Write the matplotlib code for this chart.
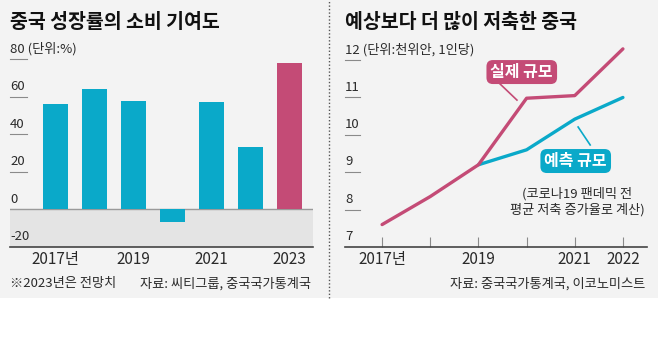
import matplotlib.pyplot as plt
from matplotlib.patches import Rectangle
from matplotlib.lines import Line2D

plt.rcParams["font.family"] = ["Noto Sans CJK KR", "DejaVu Sans"]

# ---------------- data ----------------
bar_years = [2017, 2018, 2019, 2020, 2021, 2022, 2023]
bar_values = [56, 64, 58, -6.5, 57.5, 33.5, 78]
bar_labels = {2017: "2017년", 2019: "2019", 2021: "2021", 2023: "2023"}

line_years = [2017, 2018, 2019, 2020, 2021, 2022]
actual = [7.6, 8.35, 9.2, 10.98, 11.05, 12.3]
pred_years = [2019, 2020, 2021, 2022]
predicted = [9.2, 9.6, 10.42, 11.0]
line_labels = {2017: "2017년", 2019: "2019", 2021: "2021", 2022: "2022"}

TEAL = "#0aa9c9"
PINK = "#c44b76"
BG = "#f3f3f3"
TXT = "#2a2a2a"

W, H = 658, 339
fig = plt.figure(figsize=(W / 100, H / 100), dpi=100)
fig.patch.set_facecolor("white")


def fx(px):
    return px / W


def fy(py):
    return 1 - py / H


# background of the graphic
fig.patches.append(Rectangle((0, fy(298)), 1, 1 - fy(298), transform=fig.transFigure,
                             facecolor=BG, edgecolor="none", zorder=-10))
# dotted divider
fig.add_artist(Line2D([fx(329), fx(329)], [fy(298), fy(0)], transform=fig.transFigure,
                      color="#555555", lw=1.0, linestyle=(0, (1, 1.5))))

# ---------------- left: bars ----------------
ax1 = fig.add_axes([fx(10), fy(247), fx(313) - fx(10), fy(50) - fy(247)])
ax1.set_facecolor("none")
ax1.set_ylim(-20, 85)
ax1.set_xlim(-1.17, 6.6)

ax1.axhspan(-20, 0, color="#e4e4e4", zorder=0)
ax1.axhline(0, color="#9a9a9a", lw=1.0, zorder=1)

colors = [TEAL] * (len(bar_values) - 1) + [PINK]
ax1.bar(range(len(bar_years)), bar_values, width=0.64, color=colors, zorder=2)

for s in ["top", "right", "left"]:
    ax1.spines[s].set_visible(False)
ax1.spines["bottom"].set_color("#444444")
ax1.spines["bottom"].set_linewidth(1.2)
ax1.set_yticks([])
ax1.set_xticks([bar_years.index(y) for y in bar_labels])
ax1.set_xticklabels(list(bar_labels.values()), fontsize=11, color=TXT)
ax1.tick_params(axis="x", length=0, pad=3)

ytrans1 = ax1.get_yaxis_transform()
for v in [80, 60, 40, 20]:
    ax1.plot([0, 0.055], [v, v], transform=ytrans1, color="#8a8a8a", lw=0.8, clip_on=False)
for v in [80, 60, 40, 20, 0, -20]:
    lab = "80 (단위:%)" if v == 80 else str(v)
    ax1.text(0, v + 2, lab, transform=ytrans1, ha="left", va="bottom",
             fontsize=9.5, color=TXT)

# ---------------- right: lines ----------------
ax2 = fig.add_axes([fx(345), fy(247), fx(647) - fx(345), fy(50) - fy(247)])
ax2.set_facecolor("none")
ax2.set_xlim(2016.23, 2022.5)
ax2.set_ylim(7, 12.27)

ax2.plot(pred_years, predicted, color=TEAL, lw=2.4, solid_capstyle="round", clip_on=False, zorder=3)
ax2.plot(line_years, actual, color=PINK, lw=2.4, solid_capstyle="round", clip_on=False, zorder=4)

for s in ["top", "right", "left"]:
    ax2.spines[s].set_visible(False)
ax2.spines["bottom"].set_color("#444444")
ax2.spines["bottom"].set_linewidth(1.2)
ax2.set_yticks([])
ax2.set_xticks(line_years)
ax2.set_xticklabels([line_labels.get(y, "") for y in line_years], fontsize=11, color=TXT)
ax2.tick_params(axis="x", direction="in", length=7, width=0.8, color="#8a8a8a", pad=3)

ytrans2 = ax2.get_yaxis_transform()
for v in [12, 11, 10, 9, 8]:
    ax2.plot([0, 0.05], [v, v], transform=ytrans2, color="#8a8a8a", lw=0.8, clip_on=False)
for v in [12, 11, 10, 9, 8, 7]:
    lab = "12 (단위:천위안, 1인당)" if v == 12 else str(v)
    ax2.text(0, v + 0.1, lab, transform=ytrans2, ha="left", va="bottom",
             fontsize=9.5, color=TXT)

# callouts
ax2.plot([2019.41, 2019.8], [11.41, 10.93], color=PINK, lw=1.2)
ax2.text(2019.9, 11.68, "실제 규모", ha="center", va="center", fontsize=11.5,
         fontweight="bold", color="white",
         bbox=dict(boxstyle="round,pad=0.25,rounding_size=0.4", fc=PINK, ec="none"))
ax2.plot([2021.07, 2021.32], [10.21, 9.73], color=TEAL, lw=1.2)
ax2.text(2021.02, 9.30, "예측 규모", ha="center", va="center", fontsize=11.5,
         fontweight="bold", color="white",
         bbox=dict(boxstyle="round,pad=0.25,rounding_size=0.4", fc=TEAL, ec="none"))
ax2.text(2021.05, 8.22, "(코로나19 팬데믹 전\n평균 저축 증가율로 계산)", ha="center", va="center",
         fontsize=9.5, color=TXT, linespacing=1.25)

# ---------------- titles & footers ----------------
fig.text(fx(10), fy(22), "중국 성장률의 소비 기여도", ha="left", va="center",
         fontsize=14, fontweight="bold", color="#111111")
fig.text(fx(345), fy(22), "예상보다 더 많이 저축한 중국", ha="left", va="center",
         fontsize=14, fontweight="bold", color="#111111")

fig.text(fx(10), fy(284), "※2023년은 전망치", ha="left", va="center", fontsize=9.5, color=TXT)
fig.text(fx(311), fy(284), "자료: 씨티그룹, 중국국가통계국", ha="right", va="center",
         fontsize=9.5, color=TXT)
fig.text(fx(645), fy(284), "자료: 중국국가통계국, 이코노미스트", ha="right", va="center",
         fontsize=9.5, color=TXT)

fig.savefig("out.png", dpi=100)
